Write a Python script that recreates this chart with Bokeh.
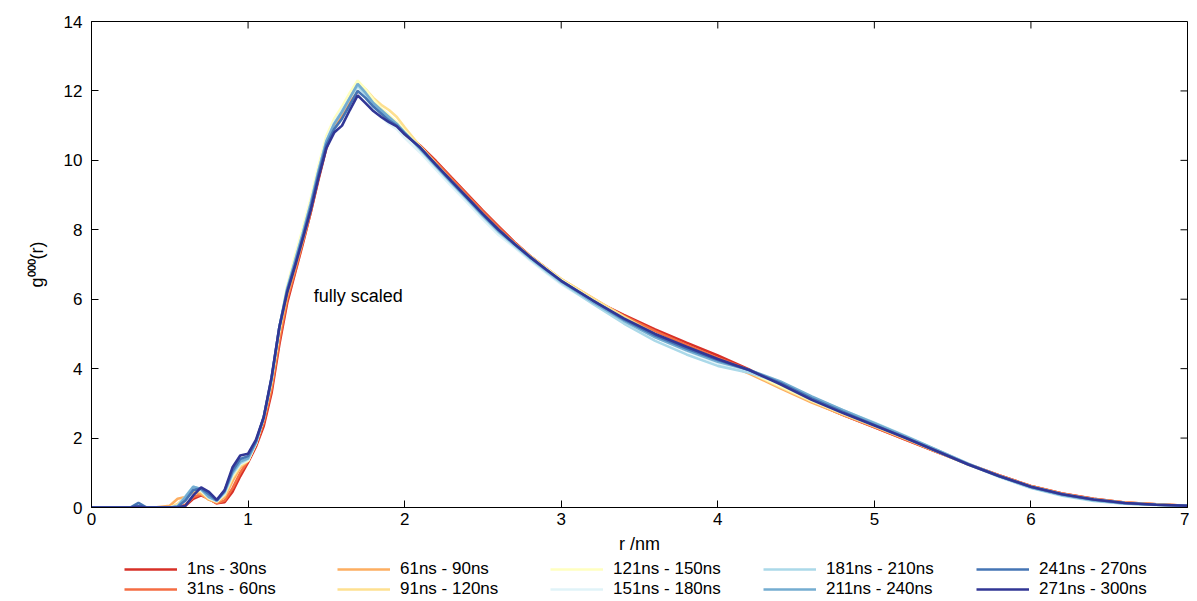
import numpy as np
from bokeh.plotting import figure
from bokeh.layouts import column
from bokeh.models import Range1d, Legend, LegendItem, Label, FixedTicker
from bokeh.embed import file_html
from bokeh.resources import INLINE

# ---------------- data ----------------
r_nm = [0, 0.1, 0.2, 0.25, 0.3, 0.35, 0.4, 0.5,
        0.55, 0.6, 0.65, 0.7, 0.75, 0.8, 0.85, 0.9, 0.95, 1.0, 1.05, 1.1, 1.15, 1.2,
        1.25, 1.3, 1.35, 1.4, 1.45, 1.5, 1.55, 1.6, 1.65, 1.7, 1.75, 1.8, 1.85, 1.9, 1.95, 2.0,
        2.1, 2.2, 2.3, 2.4, 2.5, 2.6, 2.7, 2.8, 2.9, 3.0,
        3.2, 3.4, 3.6, 3.8, 4.0, 4.2, 4.4, 4.6, 4.8, 5.0, 5.2, 5.4, 5.6, 5.8,
        6.0, 6.2, 6.4, 6.6, 6.8, 7.0]

g_1_30 = [0, 0, 0, 0, 0, 0, 0, 0,
          0, 0.05, 0.25, 0.35, 0.25, 0.12, 0.15, 0.45, 0.9, 1.3, 1.75, 2.35, 3.3, 4.7,
          5.9, 6.75, 7.6, 8.5, 9.45, 10.35, 10.95, 11.3, 11.65, 12.0, 11.85, 11.55, 11.35, 11.15, 11.0, 10.8,
          10.42, 9.98, 9.5, 9.03, 8.55, 8.1, 7.65, 7.25, 6.9, 6.56,
          5.99, 5.55, 5.13, 4.75, 4.38, 3.98, 3.5, 3.05, 2.66, 2.31, 1.95, 1.6, 1.25, 0.92,
          0.62, 0.4, 0.25, 0.14, 0.09, 0.05]
g_31_60 = [0, 0, 0, 0, 0, 0, 0, 0,
           0, 0.08, 0.3, 0.38, 0.25, 0.12, 0.2, 0.55, 1.0, 1.35, 1.8, 2.45, 3.4, 4.8,
           6.0, 6.8, 7.65, 8.5, 9.5, 10.4, 10.95, 11.3, 11.7, 12.05, 11.85, 11.55, 11.35, 11.15, 11.0, 10.78,
           10.4, 9.95, 9.47, 9.0, 8.52, 8.07, 7.63, 7.24, 6.89, 6.55,
           5.98, 5.52, 5.08, 4.68, 4.31, 3.96, 3.5, 3.06, 2.67, 2.32, 1.96, 1.6, 1.25, 0.92,
           0.62, 0.4, 0.25, 0.14, 0.09, 0.05]
g_61_90 = [0, 0, 0, 0, 0, 0, 0, 0.05,
           0.25, 0.3, 0.45, 0.4, 0.22, 0.15, 0.3, 0.75, 1.15, 1.35, 1.85, 2.55, 3.55, 5.0,
           6.1, 6.9, 7.7, 8.6, 9.55, 10.45, 11.0, 11.35, 11.75, 12.1, 11.9, 11.6, 11.4, 11.2, 11.0, 10.75,
           10.36, 9.87, 9.4, 8.93, 8.45, 8.0, 7.62, 7.25, 6.91, 6.58,
           6.04, 5.5, 5.0, 4.58, 4.22, 3.86, 3.43, 3.02, 2.67, 2.33, 1.98, 1.61, 1.24, 0.9,
           0.61, 0.39, 0.24, 0.14, 0.09, 0.05]
g_91_120 = [0, 0, 0, 0, 0, 0, 0, 0,
            0.1, 0.3, 0.5, 0.45, 0.25, 0.17, 0.35, 0.85, 1.2, 1.35, 1.85, 2.6, 3.65, 5.1,
            6.35, 7.15, 7.95, 8.8, 9.75, 10.6, 11.15, 11.5, 11.9, 12.25, 12.05, 11.8, 11.6, 11.45, 11.25, 10.95,
            10.4, 9.9, 9.4, 8.92, 8.44, 7.98, 7.6, 7.24, 6.9, 6.58,
            6.03, 5.49, 4.97, 4.58, 4.24, 3.9, 3.47, 3.06, 2.7, 2.35, 1.99, 1.61, 1.23, 0.89,
            0.59, 0.37, 0.22, 0.12, 0.08, 0.05]
g_121_150 = [0, 0, 0, 0, 0, 0, 0, 0,
             0.05, 0.3, 0.55, 0.48, 0.27, 0.18, 0.4, 0.9, 1.25, 1.35, 1.85, 2.6, 3.7, 5.15,
             6.4, 7.25, 8.05, 8.9, 9.85, 10.7, 11.2, 11.55, 11.95, 12.3, 12.05, 11.75, 11.5, 11.3, 11.1, 10.85,
             10.35, 9.83, 9.35, 8.88, 8.4, 7.95, 7.58, 7.22, 6.89, 6.56,
             5.98, 5.45, 4.95, 4.55, 4.21, 3.91, 3.5, 3.08, 2.71, 2.36, 2.0, 1.62, 1.24, 0.9,
             0.6, 0.38, 0.23, 0.13, 0.08, 0.05]
g_151_180 = [0, 0, 0, 0, 0, 0, 0, 0,
             0.05, 0.3, 0.58, 0.5, 0.28, 0.18, 0.4, 0.95, 1.25, 1.38, 1.85, 2.6, 3.7, 5.15,
             6.35, 7.15, 7.95, 8.8, 9.75, 10.6, 11.1, 11.45, 11.8, 12.1, 11.8, 11.5, 11.25, 11.05, 10.9, 10.65,
             10.22, 9.73, 9.25, 8.78, 8.3, 7.85, 7.5, 7.12, 6.77, 6.43,
             5.89, 5.37, 4.9, 4.51, 4.16, 3.92, 3.57, 3.14, 2.75, 2.39, 2.02, 1.63, 1.24, 0.88,
             0.57, 0.35, 0.2, 0.11, 0.07, 0.05]
g_181_210 = [0, 0, 0, 0, 0, 0, 0, 0,
             0.05, 0.32, 0.6, 0.52, 0.3, 0.2, 0.42, 0.95, 1.28, 1.4, 1.85, 2.6, 3.7, 5.2,
             6.3, 7.1, 7.9, 8.75, 9.7, 10.55, 11.05, 11.4, 11.8, 12.15, 11.9, 11.6, 11.4, 11.2, 11.05, 10.8,
             10.3, 9.81, 9.33, 8.86, 8.38, 7.93, 7.54, 7.16, 6.81, 6.47,
             5.87, 5.3, 4.8, 4.41, 4.08, 3.88, 3.6, 3.18, 2.8, 2.44, 2.06, 1.66, 1.25, 0.88,
             0.56, 0.34, 0.19, 0.11, 0.07, 0.05]
g_211_240 = [0, 0, 0, 0, 0.04, 0, 0, 0,
             0.03, 0.3, 0.6, 0.53, 0.3, 0.2, 0.45, 1.0, 1.32, 1.42, 1.88, 2.6, 3.7, 5.2,
             6.3, 7.1, 7.9, 8.75, 9.7, 10.55, 11.05, 11.4, 11.8, 12.2, 11.95, 11.65, 11.45, 11.25, 11.05, 10.8,
             10.33, 9.84, 9.36, 8.89, 8.41, 7.96, 7.58, 7.2, 6.85, 6.51,
             5.92, 5.38, 4.9, 4.53, 4.2, 3.96, 3.63, 3.2, 2.8, 2.43, 2.05, 1.66, 1.26, 0.9,
             0.58, 0.36, 0.21, 0.12, 0.08, 0.05]
g_241_270 = [0, 0, 0, 0, 0.13, 0, 0, 0,
             0.02, 0.2, 0.5, 0.55, 0.38, 0.2, 0.48, 1.05, 1.4, 1.48, 1.9, 2.6, 3.72, 5.2,
             6.25, 7.0, 7.8, 8.65, 9.6, 10.45, 10.9, 11.2, 11.6, 12.0, 11.8, 11.55, 11.35, 11.15, 11.0, 10.78,
             10.36, 9.87, 9.39, 8.92, 8.45, 8.0, 7.6, 7.22, 6.87, 6.53,
             5.97, 5.42, 4.95, 4.58, 4.25, 3.96, 3.59, 3.14, 2.75, 2.38, 2.01, 1.62, 1.24, 0.9,
             0.6, 0.38, 0.23, 0.13, 0.08, 0.05]
g_271_300 = [0, 0, 0, 0, 0.03, 0, 0, 0,
             0, 0.05, 0.35, 0.58, 0.45, 0.22, 0.5, 1.15, 1.5, 1.55, 1.95, 2.6, 3.75, 5.2,
             6.2, 6.95, 7.75, 8.56, 9.5, 10.35, 10.8, 11.0, 11.45, 11.87, 11.65, 11.42, 11.25, 11.1, 10.98, 10.75,
             10.37, 9.88, 9.4, 8.93, 8.45, 8.0, 7.6, 7.22, 6.87, 6.53,
             5.97, 5.45, 5.0, 4.63, 4.28, 3.96, 3.55, 3.1, 2.72, 2.36, 2.0, 1.62, 1.24, 0.9,
             0.6, 0.38, 0.23, 0.13, 0.08, 0.05]

series_labels = ["1ns - 30ns", "31ns - 60ns", "61ns - 90ns", "91ns - 120ns", "121ns - 150ns",
                 "151ns - 180ns", "181ns - 210ns", "211ns - 240ns", "241ns - 270ns", "271ns - 300ns"]
series_values = [g_1_30, g_31_60, g_61_90, g_91_120, g_121_150,
                 g_151_180, g_181_210, g_211_240, g_241_270, g_271_300]
series_colors = ["#d73027", "#f46d43", "#fdae61", "#fee090", "#ffffbf",
                 "#e0f3f8", "#abd9e9", "#74add1", "#4575b4", "#313695"]

x_ticks = [0, 1, 2, 3, 4, 5, 6, 7]
y_ticks = [0, 2, 4, 6, 8, 10, 12, 14]

FONT = "Liberation Sans"
X_MIN, X_MAX, Y_MIN, Y_MAX = 0, 7, 0, 14
BORDER_L, BORDER_R = 91, 2
FRAME_W, FRAME_H = 1096, 486
TICK_PX = 7
LINE_W = 2.6

# ---------------- main figure ----------------
p = figure(frame_width=FRAME_W, frame_height=FRAME_H, output_backend="svg", toolbar_location=None,
           x_range=Range1d(X_MIN, X_MAX), y_range=Range1d(Y_MIN, Y_MAX),
           min_border_left=BORDER_L, min_border_top=21, min_border_right=BORDER_R, min_border_bottom=52)
p.grid.visible = False
p.outline_line_color = "black"
p.outline_line_width = 1
p.background_fill_color = "white"


def style_axis(ax, ticks):
    ax.ticker = FixedTicker(ticks=ticks)
    ax.minor_tick_line_color = None
    ax.major_tick_in = TICK_PX
    ax.major_tick_out = 0
    ax.axis_line_color = "black"
    ax.major_tick_line_color = "black"
    ax.major_label_text_font = FONT
    ax.major_label_text_font_size = "17px"
    ax.major_label_text_color = "black"
    ax.axis_label_text_font = FONT
    ax.axis_label_text_font_size = "18px"
    ax.axis_label_text_font_style = "normal"
    ax.axis_label_text_color = "black"


xa = p.xaxis[0]
ya = p.yaxis[0]
style_axis(xa, x_ticks)
style_axis(ya, y_ticks)
xa.axis_label = "r /nm"
xa.major_label_standoff = 5
xa.axis_label_standoff = 6
ya.axis_label = "g\u2070\u2070\u2070(r)"
ya.major_label_standoff = 9
ya.axis_label_standoff = 14

# mirrored (inward) tick marks on the top and right border, at the same tick values
dy_tick = TICK_PX * (Y_MAX - Y_MIN) / FRAME_H
dx_tick = TICK_PX * (X_MAX - X_MIN) / FRAME_W
p.segment(x0=x_ticks, y0=[Y_MAX] * len(x_ticks), x1=x_ticks, y1=[Y_MAX - dy_tick] * len(x_ticks),
          line_color="black", line_width=1)
p.segment(x0=[X_MAX] * len(y_ticks), y0=y_ticks, x1=[X_MAX - dx_tick] * len(y_ticks), y1=y_ticks,
          line_color="black", line_width=1)

for vals, col in zip(series_values, series_colors):
    p.line(r_nm, vals, line_color=col, line_width=LINE_W)

p.add_layout(Label(x=1.42, y=6.08, text="fully scaled", text_font=FONT,
                   text_font_size="18px", text_baseline="middle", text_color="black"))

# ---------------- legend strip below the plot (2 rows x 5 columns) ----------------
lg = figure(width=BORDER_L + FRAME_W + BORDER_R, height=40, output_backend="svg", toolbar_location=None,
            x_range=Range1d(0, 1), y_range=Range1d(0, 1),
            min_border_left=BORDER_L, min_border_right=BORDER_R, min_border_top=0, min_border_bottom=0)
lg.axis.visible = False
lg.grid.visible = False
lg.outline_line_color = None

items = []
for lab, col in zip(series_labels, series_colors):
    # legend key only: a single undefined point, so nothing is drawn in the strip itself
    key = lg.line(x=np.array([np.nan]), y=np.array([np.nan]), line_color=col, line_width=LINE_W)
    items.append(LegendItem(label=lab, renderers=[key]))

legend = Legend(items=items, location=(124 - BORDER_L, 0), orientation="vertical", nrows=2,
                glyph_width=53, glyph_height=18, label_height=18, label_width=150,
                label_standoff=10, spacing=0, padding=0, margin=0,
                label_text_font=FONT, label_text_font_size="17px", label_text_color="black",
                border_line_alpha=0, background_fill_alpha=0)
lg.add_layout(legend, "center")

layout = column(p, lg, spacing=0)
open("out.html", "w").write(file_html(layout, INLINE))
